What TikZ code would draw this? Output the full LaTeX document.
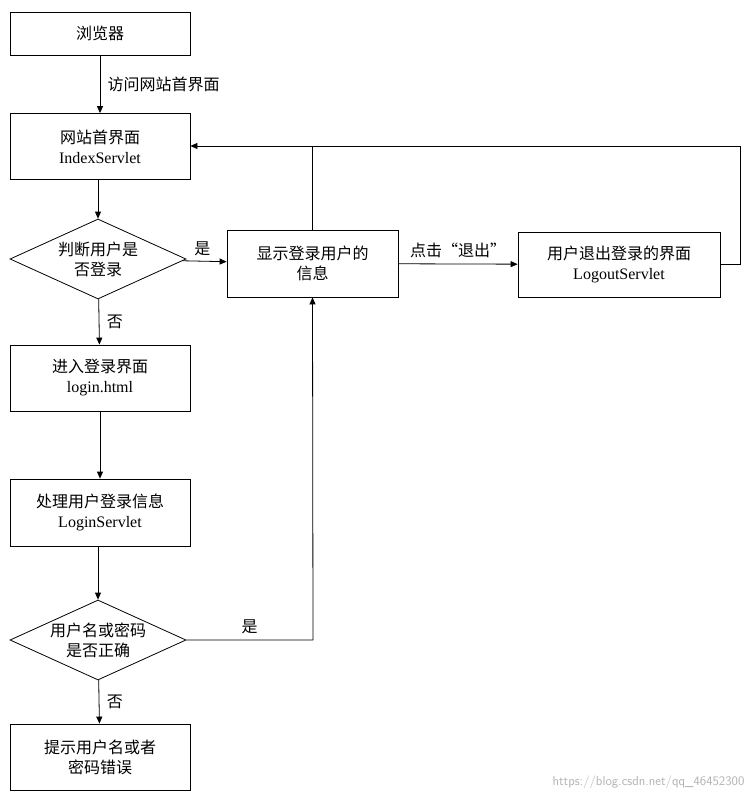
\documentclass[tikz,border=0pt]{standalone}
\usepackage{fontspec}
\setmainfont{Liberation Serif}
\newfontfamily\cjk{Noto Sans CJK SC}
\usetikzlibrary{shapes.geometric,arrows.meta}
\begin{document}
\begin{tikzpicture}[x=1pt,y=-1pt,
  box/.style={draw,thick,minimum width=180pt,minimum height=66pt,align=center,font=\fontsize{16}{20}\selectfont\cjk,inner sep=2pt},
  dia/.style={draw,thick,diamond,aspect=2.25,minimum width=176pt,minimum height=80pt,inner sep=0pt,align=center,font=\fontsize{16}{20}\selectfont\cjk},
  lab/.style={font=\fontsize{16}{20}\selectfont\cjk},
  arr/.style={thick,-{Triangle[length=7pt,width=6pt]}}]
\useasboundingbox (0,0) rectangle (751,802);
\fill[white] (0,0) rectangle (751,802);
\node[box,minimum height=43pt] (b) at (100,33.5) {浏览器};
\node[box] (idx) at (100,146.5) {网站首界面\\\rmfamily IndexServlet};
\node[dia] (d1) at (98,259) {判断用户是\\否登录};
\node[box,minimum width=171pt,minimum height=67pt] (show) at (312.5,263.5) {显示登录用户的\\信息};
\node[box,minimum width=202pt,minimum height=65pt] (out) at (619,264.5) {用户退出登录的界面\\\rmfamily LogoutServlet};
\node[box] (login) at (100,378) {进入登录界面\\\rmfamily login.html};
\node[box,minimum height=67pt] (proc) at (100,512.5) {处理用户登录信息\\\rmfamily LoginServlet};
\node[dia] (d2) at (98,640) {用户名或密码\\是否正确};
\node[box] (err) at (100,757) {提示用户名或者\\密码错误};
\draw[arr] (b) -- (idx) node[lab,midway,right=4pt] {访问网站首界面};
\draw[arr] (idx.south -| d1.north) -- (d1);
\draw[arr] (d1) -- (show) node[lab,pos=0.45,above=2pt] {是};
\draw[arr] (d1) -- (login) node[lab,midway,right=4pt] {否};
\draw[arr] (login) -- (proc);
\draw[arr] (proc.south -| d2.north) -- (d2);
\draw[arr] (d2) -- (err) node[lab,midway,right=4pt] {否};
\draw[arr] (show) -- (out) node[lab,midway,above=2pt] {点击“退出”};
\coordinate (c1) at (313,640);
\draw[arr] (d2.east) -- (c1) node[lab,midway,above=2pt] {是} -- (show.south);
\coordinate (c2) at (740,146);
\draw[arr] (out.east) -| (c2) -- (idx.east |- c2);
\draw[thick] (show.north) -- (show.north |- c2);
\node[font=\fontsize{13}{15}\selectfont\sffamily,text=gray!60,anchor=east] (wm) at (748,782) {https://blog.csdn.net/qq\_46452300};
\end{tikzpicture}
\end{document}
